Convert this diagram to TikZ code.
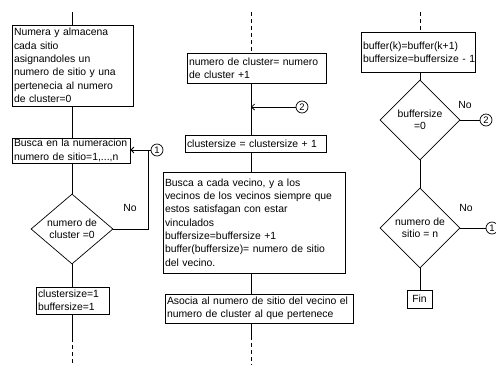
\documentclass[tikz,border=0pt]{standalone}
\usepackage{fontspec}
\setmainfont{Liberation Sans}
\usetikzlibrary{shapes.geometric,arrows.meta}
\begin{document}
\begin{tikzpicture}[x=1pt,y=-1pt,
 every node/.style={font=\fontsize{10.4}{13.3}\selectfont},
 box/.style={draw, line width=0.8pt, inner xsep=2pt, inner ysep=1pt, align=left},
 dec/.style={draw, diamond, line width=0.7pt, inner sep=0pt, align=center, font=\fontsize{10.4}{12}\selectfont},
 conn/.style={draw, circle, line width=0.7pt, inner sep=0pt, minimum size=12pt, font=\fontsize{9.5}{10}\selectfont},
 flow/.style={line width=0.8pt},
 cont/.style={line width=0.8pt, dash pattern=on 4pt off 3pt},
 arr/.style={line width=0.8pt, -{Straight Barb[length=3pt,width=6pt]}},
 lbl/.style={inner sep=0pt}
]
\fill[white] (0,0) rectangle (496,365);
\useasboundingbox (0,0) rectangle (496,365);

% column 1
\node[box, text width=117pt, minimum height=81pt] (b1) at (72.5,65.5)
 {Numera y almacena\\cada sitio\\asignandoles un\\numero de sitio y una\\pertenecia al numero\\de cluster=0};
\node[box, text width=114pt, minimum height=25pt] (b2) at (71,150.5)
 {\mbox{Busca en la numeracion}\\\mbox{numero de sitio=1,...,n}};
\node[dec, minimum width=82pt, minimum height=70pt, aspect=1.17] (d1) at (72,229) {numero de\\cluster =0};
\node[box, text width=69pt, minimum height=27pt] (b3) at (72.5,300.5) {clustersize=1\\buffersize=1};
\node[conn] (c1a) at (157,150) {1};
\node[lbl] (no1) at (130,208) {No};
\coordinate (j1) at (148,150);
\coordinate (t1) at (72,12);
\coordinate (e1) at (72,338);
\coordinate (f1) at (72,365);

\draw[flow] (t1) -- (t1 |- b1.north);
\draw[flow] (b1.south -| t1) -- (b2.north -| t1);
\draw[flow] (b2.south -| t1) -- (d1.north);
\draw[flow] (d1.south) -- (b3.north -| t1);
\draw[flow] (b3.south -| t1) -- (e1);
\draw[cont] (e1) -- (f1);
\draw[flow] (d1.east) -| (j1);
\draw[arr] (c1a.west) -- (b2.east |- c1a);

% column 2
\node[box, text width=135pt, minimum height=30pt] (b4) at (256.5,68)
 {numero de cluster= numero\\de cluster +1};
\node[box, text width=137pt, minimum height=17pt] (b5) at (255.5,143.5)
 {\mbox{clustersize = clustersize + 1}};
\node[box, text width=178pt, minimum height=101pt] (b6) at (254,222.5)
 {Busca a cada vecino, y a los\\\mbox{vecinos de los vecinos siempre que}\\estos satisfagan con estar\\vinculados\\buffersize=buffersize +1\\\mbox{buffer(buffersize)= numero de sitio}\\del vecino.};
\node[box, text width=184pt, minimum height=29pt] (b7) at (259,308.5)
 {\mbox{Asocia al numero de sitio del vecino el}\\numero de cluster al que pertenece};
\node[conn] (c2a) at (302,107) {2};
\coordinate (t2) at (251,12);
\coordinate (e2) at (251,336);
\coordinate (f2) at (251,365);

\draw[cont] (t2) -- (t2 |- b4.north);
\draw[flow] (b4.south -| t2) -- (b5.north -| t2);
\draw[arr] (c2a.west) -- (c2a -| t2);
\draw[flow] (b5.south -| t2) -- (b6.north -| t2);
\draw[flow] (b6.south -| t2) -- (b7.north -| t2);
\draw[flow] (b7.south -| t2) -- (e2);
\draw[cont] (e2) -- (f2);

% column 3
\node[box, text width=110pt, minimum height=40pt] (b8) at (418,52)
 {\mbox{buffer(k)=buffer(k+1)}\\\mbox{buffersize=buffersize - 1}};
\node[dec, minimum width=80pt, minimum height=80pt] (d2) at (420,120) {buffersize\\=0};
\node[dec, minimum width=80pt, minimum height=80pt] (d3) at (420,228) {numero de\\sitio = n};
\node[box, align=center, inner xsep=1pt, minimum width=25pt, minimum height=18pt] (fin) at (419.5,299) {Fin};
\node[conn] (c2b) at (486,120) {2};
\node[conn] (c1b) at (492,228) {1};
\node[lbl] (no2) at (465,105) {No};
\node[lbl] (no3) at (466,208) {No};
\coordinate (t3) at (420,12);

\draw[cont] (t3) -- (t3 |- b8.north);
\draw[flow] (b8.south -| t3) -- (d2.north);
\draw[flow] (d2.east) -- (c2b.west);
\draw[flow] (d2.south) -- (d3.north);
\draw[flow] (d3.east) -- (c1b.west);
\draw[flow] (d3.south) -- (fin.north -| d3.south);
\end{tikzpicture}
\end{document}
